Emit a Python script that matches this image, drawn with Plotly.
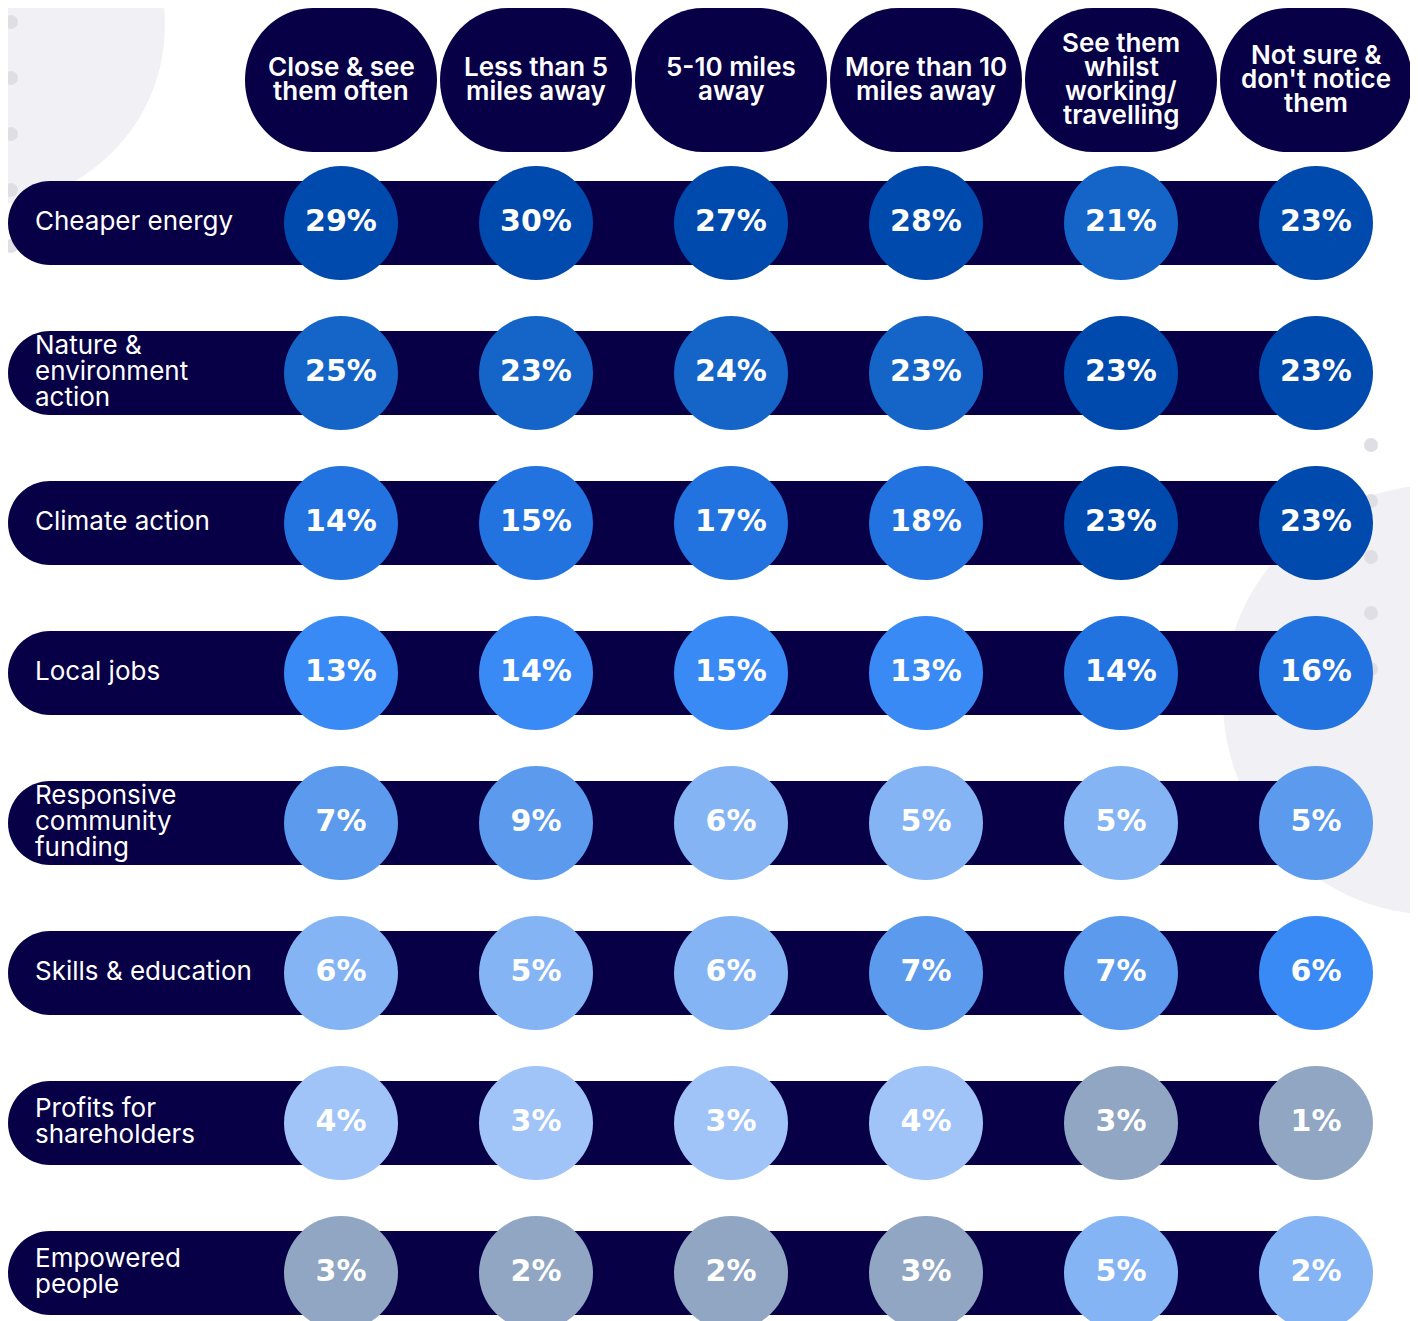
import plotly.graph_objects as go

# ---------------- data ----------------
columns = ["Close & see<br>them often", "Less than 5<br>miles away", "5-10 miles<br>away",
           "More than 10<br>miles away", "See them<br>whilst<br>working/<br>travelling",
           "Not sure &<br>don't notice<br>them"]
rows = ["Cheaper energy", "Nature &<br>environment<br>action", "Climate action", "Local jobs",
        "Responsive<br>community<br>funding", "Skills & education",
        "Profits for<br>shareholders", "Empowered<br>people"]

cheaper_energy = [29, 30, 27, 28, 21, 23]
nature_env = [25, 23, 24, 23, 23, 23]
climate_action = [14, 15, 17, 18, 23, 23]
local_jobs = [13, 14, 15, 13, 14, 16]
community_funding = [7, 9, 6, 5, 5, 5]
skills_education = [6, 5, 6, 7, 7, 6]
profits_shareholders = [4, 3, 3, 4, 3, 1]
empowered_people = [3, 2, 2, 3, 5, 2]
values = [cheaper_energy, nature_env, climate_action, local_jobs,
          community_funding, skills_education, profits_shareholders, empowered_people]

# ---------------- style ----------------
NAVY = "#070046"
palette = {1: "#004AAD", 2: "#1565C8", 3: "#2272E0", 4: "#3A8AF5",
           5: "#5B9AEC", 6: "#85B4F4", 7: "#A0C4F8", 8: "#90A6C3"}
shade = [[1, 1, 1, 1, 2, 1],
         [2, 2, 2, 2, 1, 1],
         [3, 3, 3, 3, 1, 1],
         [4, 4, 4, 4, 3, 3],
         [5, 5, 6, 6, 6, 5],
         [6, 6, 6, 5, 5, 4],
         [7, 7, 7, 7, 8, 8],
         [8, 8, 8, 8, 6, 6]]

W, H = 1418, 1321
PAGE_OFF = 8  # default page body margin
col_x0, col_dx = 341, 195
row_y0, row_dy = 223, 150
head_y = 80
head_w, head_h = 192, 144
bar_h = 84
bar_left = 8
circle_d = 114

col_x = [col_x0 + i * col_dx for i in range(len(columns))]
row_y = [row_y0 + j * row_dy for j in range(len(rows))]

K = 0.5523


def rrect(x0, y0, x1, y1, rx, ry, left=True, right=True):
    p = []
    p.append(f"M {x0+rx if left else x0},{y0}")
    if right:
        p.append(f"L {x1-rx},{y0}")
        p.append(f"C {x1-rx+K*rx},{y0} {x1},{y0+ry-K*ry} {x1},{y0+ry}")
        p.append(f"L {x1},{y1-ry}")
        p.append(f"C {x1},{y1-ry+K*ry} {x1-rx+K*rx},{y1} {x1-rx},{y1}")
    else:
        p.append(f"L {x1},{y0}")
        p.append(f"L {x1},{y1}")
    if left:
        p.append(f"L {x0+rx},{y1}")
        p.append(f"C {x0+rx-K*rx},{y1} {x0},{y1-ry+K*ry} {x0},{y1-ry}")
        p.append(f"L {x0},{y0+ry}")
        p.append(f"C {x0},{y0+ry-K*ry} {x0+rx-K*rx},{y0} {x0+rx},{y0}")
    else:
        p.append(f"L {x0},{y1}")
    p.append("Z")
    return " ".join(p)


shapes = []
# background decorations
shapes.append(dict(type="circle", xref="x", yref="y", x0=-195, y0=-155, x1=165, y1=205,
                   fillcolor="#F0F0F5", line=dict(width=0), layer="below"))
shapes.append(dict(type="circle", xref="x", yref="y", x0=1223, y0=485, x1=1653, y1=915,
                   fillcolor="#F0F0F5", line=dict(width=0), layer="below"))
for k in range(5):
    cy = 22 + k * 56
    shapes.append(dict(type="circle", xref="x", yref="y", x0=4, y0=cy - 7, x1=18, y1=cy + 7,
                       fillcolor="#DEDEE4", line=dict(width=0), layer="below"))
    cy2 = 445 + k * 56
    shapes.append(dict(type="circle", xref="x", yref="y", x0=1364, y0=cy2 - 7, x1=1378, y1=cy2 + 7,
                       fillcolor="#DEDEE4", line=dict(width=0), layer="below"))

# header pills
for cx in col_x:
    shapes.append(dict(type="path", xref="x", yref="y",
                       path=rrect(cx - head_w / 2, head_y - head_h / 2, cx + head_w / 2, head_y + head_h / 2, 68, 72),
                       fillcolor=NAVY, line=dict(width=0), layer="below"))

# row bars
for cy in row_y:
    shapes.append(dict(type="path", xref="x", yref="y",
                       path=rrect(bar_left, cy - bar_h / 2, col_x[-1], cy + bar_h / 2, bar_h / 2, bar_h / 2, right=False),
                       fillcolor=NAVY, line=dict(width=0), layer="below"))

annotations = []
head_lh = 24
for cx, lab in zip(col_x, columns):
    lines = lab.split("<br>")
    n = len(lines)
    for i, ln in enumerate(lines):
        y = head_y - 2 + (i - (n - 1) / 2) * head_lh
        annotations.append(dict(x=cx, y=y, xref="x", yref="y", text=ln, showarrow=False,
                                xanchor="center", yanchor="middle",
                                font=dict(family="Inter", size=26, color="white", weight=600)))

row_lh = 26
for cy, lab in zip(row_y, rows):
    lines = lab.split("<br>")
    n = len(lines)
    for i, ln in enumerate(lines):
        y = cy - 3 + (i - (n - 1) / 2) * row_lh
        annotations.append(dict(x=33, y=y, xref="x", yref="y", text=ln, showarrow=False,
                                xanchor="left", yanchor="middle",
                                font=dict(family="Inter", size=26, color="white", weight=400)))

xs, ys, cols, txt = [], [], [], []
for j, cy in enumerate(row_y):
    for i, cx in enumerate(col_x):
        xs.append(cx)
        ys.append(cy)
        cols.append(palette[shade[j][i]])
        txt.append(f"{values[j][i]}%")

fig = go.Figure()
fig.add_trace(go.Scatter(
    x=xs, y=ys, mode="markers+text", text=txt, textposition="middle center",
    marker=dict(size=circle_d, color=cols, line=dict(width=0), opacity=1),
    textfont=dict(family="DejaVu Sans", size=30, color="white", weight="bold"),
    hoverinfo="skip", showlegend=False, cliponaxis=False))

fig.update_layout(
    width=W - PAGE_OFF, height=H - PAGE_OFF, margin=dict(l=0, r=0, t=0, b=0),
    paper_bgcolor="white", plot_bgcolor="white",
    xaxis=dict(range=[PAGE_OFF, W], visible=False, fixedrange=True),
    yaxis=dict(range=[H, PAGE_OFF], visible=False, fixedrange=True),
    shapes=shapes, annotations=annotations)

fig.write_html("out.html")
